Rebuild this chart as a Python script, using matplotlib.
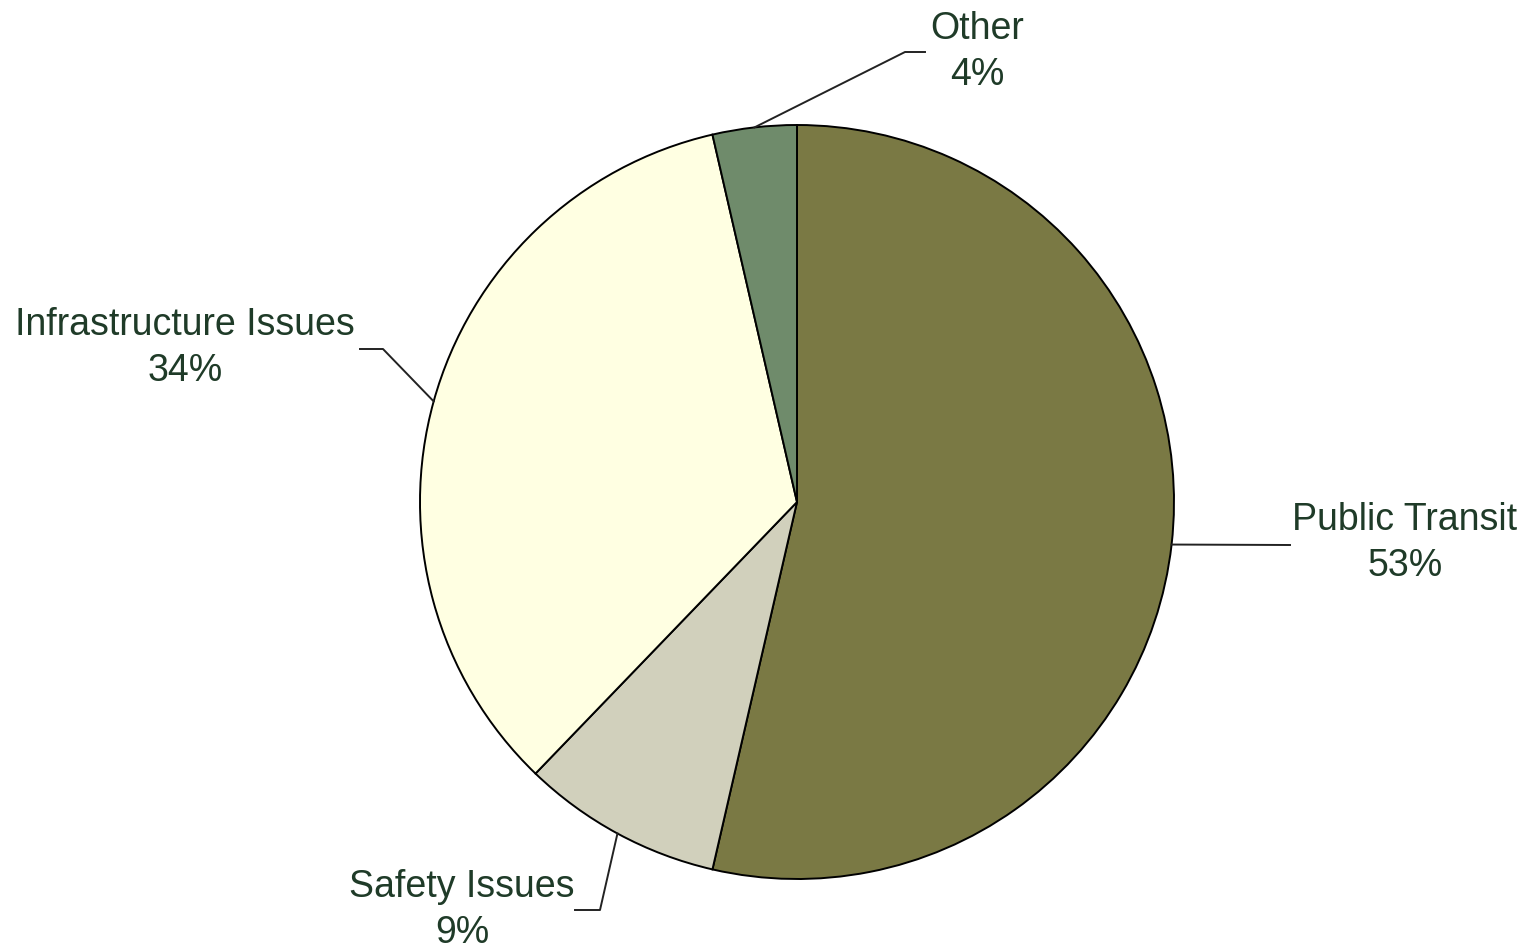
import matplotlib
matplotlib.use("Agg")
import matplotlib.pyplot as plt
import numpy as np

categories = ["Public Transit", "Safety Issues", "Infrastructure Issues", "Other"]
shares = [53.6, 8.6, 34.2, 3.6]
pct_labels = ["53%", "9%", "34%", "4%"]
colors = ["#7a7944", "#d1d0bc", "#ffffe2", "#6f8b6b"]

W, H = 1531, 948
cx, cy, r = 797, H - 502, 377

# label layout in pixel coords (image y down): elbow points and text centre
elbows = [[(1290, 545)],
          [(600, 910), (575, 910)],
          [(383, 349), (360, 349)],
          [(905, 52), (925, 52)]]
text_pos = [(1405, 543), (462, 910), (185, 348), (977, 52)]

plt.rcParams['font.family'] = ['Liberation Sans', 'DejaVu Sans']

fig = plt.figure(figsize=(W / 100, H / 100), dpi=100)
ax = fig.add_axes([0, 0, 1, 1])

wedges, _ = ax.pie(shares, colors=colors, startangle=90, counterclock=False,
                   center=(cx, cy), radius=r,
                   wedgeprops=dict(edgecolor='black', linewidth=1.4))

# pie() resets the limits, so set the pixel frame afterwards
ax.set_xlim(0, W)
ax.set_ylim(0, H)
ax.set_aspect('equal')
ax.axis('off')

for w, name, pct, elb, (tx, ty) in zip(wedges, categories, pct_labels, elbows, text_pos):
    mid = np.deg2rad((w.theta1 + w.theta2) / 2)
    ax0 = cx + r * np.cos(mid)
    ay0 = cy + r * np.sin(mid)
    xs = [ax0] + [p[0] for p in elb]
    ys = [ay0] + [H - p[1] for p in elb]
    ax.plot(xs, ys, color='#222222', lw=1.4)
    ax.text(tx, H - ty, f"{name}\n{pct}", ha='center', va='center',
            fontsize=27, color='#1f3b28', linespacing=1.35)

fig.savefig("out.png", dpi=100)
